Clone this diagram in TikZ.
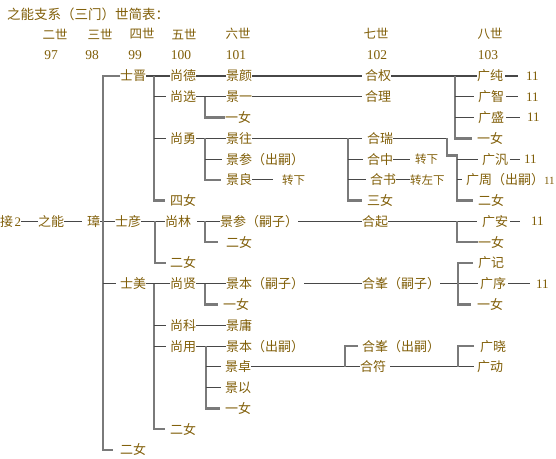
\documentclass[tikz,border=0pt]{standalone}
\usepackage{fontspec}
\setmainfont{Noto Sans CJK SC}
\newfontfamily\numfont{Liberation Serif}
\usetikzlibrary{positioning}
\definecolor{inkbrown}{RGB}{128,94,8}

\begin{document}
\begin{tikzpicture}[
    x=1pt, y=-20.78pt,
    every node/.style={inner sep=0pt, outer sep=0pt, text=inkbrown},
    person/.style={anchor=west, font=\fontsize{13pt}{15pt}\selectfont, text height=11.4pt, text depth=1.6pt},
    note/.style={anchor=west, font=\fontsize{11.5pt}{14pt}\selectfont, text height=10.1pt, text depth=1.4pt},
    tally/.style={anchor=west, font=\numfont\fontsize{13pt}{15pt}\selectfont, text height=8.6pt, text depth=0pt},
    genlabel/.style={font=\fontsize{12.5pt}{15pt}\selectfont},
    genno/.style={font=\numfont\fontsize{13.5pt}{15pt}\selectfont},
    link/.style={draw=black!72, line width=1.1pt},
    tick/.style={link, shorten >=4pt},
    trunk/.style={draw=black!52, line width=2.4pt}
  ]
  \useasboundingbox (0,-3.657) rectangle (556,18.43);

  % --- Title and generation header ---
  \node[person, font=\fontsize{13.5pt}{15pt}\selectfont] (title) at (7,-2.935) {之能支系（三门）世简表：};
  \foreach \gx/\gname/\gno/\nx in {55/二世/97/51, 100/三世/98/92, 142/四世/99/135, 184/五世/100/181,
      238/六世/101/236, 376/七世/102/377, 490/八世/103/488} {
    \node[genlabel] (gen\gno) at (\gx,-2.02) {\gname};
    \node[genno] (no\gno) at (\nx,-1.01) {\gno};
  }

  % --- Fork columns ---
  \coordinate (zhangfork) at (103,0);
  \coordinate (shijinfork) at (154,0);
  \coordinate (shiyanfork) at (155,0);
  \coordinate (shimeifork) at (154,0);
  \coordinate (shangxuanfork) at (205,0);
  \coordinate (shangyongfork) at (205,0);
  \coordinate (shanglinfork) at (205,0);
  \coordinate (shangxianfork) at (205,0);
  \coordinate (shangyongBfork) at (206,0);
  \coordinate (jingwangfork) at (348,0);
  \coordinate (jingzhuofork) at (345,0);
  \coordinate (hequanfork) at (455,0);
  \coordinate (heruibend) at (447,0);
  \coordinate (heruistep) at (457,3.82);
  \coordinate (heruifork) at (457,0);
  \coordinate (heqifork) at (457,0);
  \coordinate (hefengfork) at (458,0);
  \coordinate (hefufork) at (458,0);

  % --- 二世 to 四世 ---
  \node[person] (jie) at (0,7) {接\hspace{1.5pt}{\numfont 2}};
  \node[person] (zhineng) at (38,7) {之能};
  \node[person] (zhang) at (87,7) {璋};
  \node[person] (shijin) at (120,0) {士晋};
  \node[person] (shiyan) at (115,7) {士彦};
  \node[person] (shimei) at (120,10) {士美};
  \node[person] (ernvA) at (120,18) {二女};

  % --- 五世 ---
  \node[person] (shangde) at (170,0) {尚德};
  \node[person] (shangxuan) at (170,1) {尚选};
  \node[person] (shangyong) at (170,3) {尚勇};
  \node[person] (sinv) at (170,6) {四女};
  \node[person] (shanglin) at (165,7) {尚林};
  \node[person] (ernvB) at (170,9) {二女};
  \node[person] (shangxian) at (170,10) {尚贤};
  \node[person] (shangke) at (170,12) {尚科};
  \node[person] (shangyongB) at (170,13) {尚用};
  \node[person] (ernvC) at (170,17) {二女};

  % --- 六世 ---
  \node[person] (jingyan) at (226,0) {景颜};
  \node[person] (jingyi) at (226,1) {景一};
  \node[person] (yinvA) at (225,2) {一女};
  \node[person] (jingwang) at (226,3) {景往};
  \node[person] (jingcanA) at (226,4) {景参（出嗣）};
  \node[person] (jingliang) at (226,5) {景良};
  \node[note] (zhuanxiaA) at (282,5) {转下};
  \node[person] (jingcanB) at (220,7) {景参（嗣子）};
  \node[person] (ernvD) at (226,8) {二女};
  \node[person] (jingbenA) at (226,10) {景本（嗣子）};
  \node[person] (yinvB) at (223,11) {一女};
  \node[person] (jingyong) at (226,12) {景庸};
  \node[person] (jingbenB) at (226,13) {景本（出嗣）};
  \node[person] (jingzhuo) at (225,14) {景卓};
  \node[person] (jingyiB) at (225,15) {景以};
  \node[person] (yinvC) at (225,16) {一女};

  % --- 七世 ---
  \node[person] (hequan) at (365,0) {合权};
  \node[person] (heli) at (365,1) {合理};
  \node[person] (herui) at (367,3) {合瑞};
  \node[person] (hezhong) at (367,4) {合中};
  \node[note] (zhuanxiaB) at (415,4) {转下};
  \node[person] (heshu) at (370,5) {合书};
  \node[note] (zhuanzuoxia) at (410,5) {转左下};
  \node[person] (sannv) at (367,6) {三女};
  \node[person] (heqi) at (362,7) {合起};
  \node[person] (hefengA) at (362,10) {合峯（嗣子）};
  \node[person] (hefengB) at (362,13) {合峯（出嗣）};
  \node[person] (hefu) at (360,14) {合符};

  % --- 八世 ---
  \node[person] (guangchun) at (477,0) {广纯};
  \node[person] (guangzhi) at (478,1) {广智};
  \node[person] (guangsheng) at (478,2) {广盛};
  \node[person] (yinvD) at (477,3) {一女};
  \node[person] (guangfan) at (482,4) {广汎};
  \node[person] (guangzhou) at (466,5) {广周（出嗣）{\numfont\fontsize{11pt}{13pt}\selectfont 11}};
  \node[person] (ernvE) at (478,6) {二女};
  \node[person] (guangan) at (482,7) {广安};
  \node[person] (yinvE) at (478,8) {一女};
  \node[person] (guangji) at (478,9) {广记};
  \node[person] (guangxu) at (480,10) {广序};
  \node[person] (yinvF) at (477,11) {一女};
  \node[person] (guangxiao) at (480,13) {广晓};
  \node[person] (guangdong) at (477,14) {广动};

  % --- Tallies ---
  \foreach \src/\cx/\gap in {guangchun/526/8pt, guangzhi/526/8pt, guangsheng/527/7pt,
      guangfan/524/4pt, guangan/531/11pt, guangxu/536/6pt} {
    \node[tally] (n\src) at (\cx,0 |- \src.west) {11};
    \draw[link, shorten <=2pt, shorten >=\gap] (\src.east) -- (n\src.west);
  }

  % --- 璋 ---
  \draw[link] (jie.east) -- (zhineng.west);
  \draw[link, shorten >=5pt] (zhineng.east) -- (zhang.west);
  \draw[link] (zhang.east) -- (shiyan.west);
  \draw[trunk] (shijin.west) -| (zhangfork |- ernvA) -- ([xshift=-7pt]ernvA.west);
  \draw[tick] (zhangfork |- shimei) -- (shimei.west);

  % --- 四世 -> 五世 ---
  \draw[link] (shijin.east) -- (shangde.west);
  \draw[trunk] (shijinfork |- shijin) |- ([xshift=-5pt]sinv.west);
  \foreach \kid in {shangxuan, shangyong} \draw[tick] (shijinfork |- \kid) -- (\kid.west);
  \draw[link] (shiyan.east) -- (shanglin.west);
  \draw[trunk] (shiyanfork |- shiyan) |- ([xshift=-4pt]ernvB.west);
  \draw[link] (shimei.east) -- (shangxian.west);
  \draw[trunk] (shimeifork |- shimei) |- ([xshift=-5pt]ernvC.west);
  \foreach \kid in {shangke, shangyongB} \draw[tick] (shimeifork |- \kid) -- (\kid.west);

  % --- 五世 -> 六世 ---
  \draw[link] (shangde.east) -- (jingyan.west);
  \draw[link] (shangxuan.east) -- (jingyi.west);
  \draw[trunk] (shangxuanfork |- shangxuan) |- (yinvA.west);
  \draw[link] (shangyong.east) -- (jingwang.west);
  \draw[trunk] (shangyongfork |- shangyong) |- ([xshift=-5pt]jingliang.west);
  \draw[tick] (shangyongfork |- jingcanA) -- (jingcanA.west);
  \draw[link, shorten >=9pt] (jingliang.east) -- (zhuanxiaA.west);
  \draw[link, shorten <=6pt] (shanglin.east) -- (jingcanB.west);
  \draw[trunk] (shanglinfork |- shanglin) |- ([xshift=-8pt]ernvD.west);
  \draw[link] (shangxian.east) -- (jingbenA.west);
  \draw[trunk] (shangxianfork |- shangxian) |- ([xshift=-5pt]yinvB.west);
  \draw[link] (shangke.east) -- (jingyong.west);
  \draw[link] (shangyongB.east) -- (jingbenB.west);
  \draw[trunk] (shangyongBfork |- shangyongB) |- ([xshift=-5pt]yinvC.west);
  \foreach \kid in {jingzhuo, jingyiB} \draw[tick] (shangyongBfork |- \kid) -- (\kid.west);

  % --- 六世 -> 七世 ---
  \draw[link, shorten >=3pt] (jingyan.east) -- (hequan.west);
  \draw[link, shorten >=3pt] (jingyi.east) -- (heli.west);
  \draw[link, shorten >=5pt] (jingwang.east) -- (herui.west);
  \draw[trunk] (jingwangfork |- jingwang) |- ([xshift=-5pt]sannv.west);
  \foreach \kid in {hezhong, heshu} \draw[tick] (jingwangfork |- \kid) -- (\kid.west);
  \draw[link, shorten >=5pt] (hezhong.east) -- (zhuanxiaB.west);
  \draw[link] (heshu.east) -- (zhuanzuoxia.west);
  \draw[link] (jingcanB.east) -- (heqi.west);
  \draw[link] (jingbenA.east) -- (hefengA.west);
  \draw[link] (jingzhuo.east) -- (hefu.west);
  \draw[trunk] ([xshift=-4pt]hefengB.west) -| (jingzhuofork |- jingzhuo);

  % --- 七世 -> 八世 ---
  \draw[link] (hequan.east) -- (guangchun.west);
  \draw[trunk] (hequanfork |- hequan) |- ([xshift=-5pt]yinvD.west);
  \foreach \kid in {guangzhi, guangsheng} \draw[tick] (hequanfork |- \kid) -- (\kid.west);
  \draw[link] (herui.east) -- (heruibend |- herui);
  \draw[trunk] (heruibend |- herui) |- (heruistep) |- ([xshift=-5pt]ernvE.west);
  \foreach \kid in {guangfan, guangzhou} \draw[tick] (heruifork |- \kid) -- (\kid.west);
  \draw[link, shorten >=5pt] (heqi.east) -- (guangan.west);
  \draw[trunk] (heqifork |- heqi) |- (yinvE.west);
  \draw[link, shorten >=2pt] (hefengA.east) -- (guangxu.west);
  \draw[trunk] ([xshift=-5pt]guangji.west) -| (hefengfork |- yinvF) -- ([xshift=-6pt]yinvF.west);
  \draw[link, shorten <=4pt, shorten >=3pt] (hefu.east) -- (guangdong.west);
  \draw[trunk] ([xshift=-6pt]guangxiao.west) -| (hefufork |- hefu);

\end{tikzpicture}
\end{document}
